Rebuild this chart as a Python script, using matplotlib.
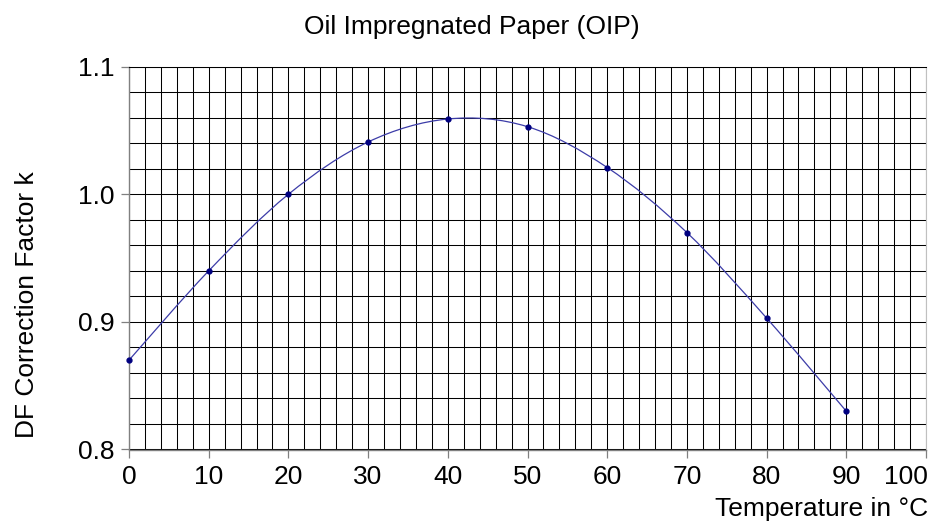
import matplotlib
matplotlib.use("Agg")
import matplotlib.pyplot as plt
import numpy as np
from matplotlib.path import Path
from matplotlib.patches import PathPatch
from matplotlib.ticker import MultipleLocator, FixedLocator
from matplotlib.transforms import ScaledTranslation

plt.rcParams['font.family'] = ['Liberation Sans', 'DejaVu Sans']

temperature = [0, 10, 20, 30, 40, 50, 60, 70, 80, 90]
k_factor = [0.870, 0.940, 1.000, 1.041, 1.059, 1.053, 1.021, 0.970, 0.903, 0.830]
x_ticks = [0, 10, 20, 30, 40, 50, 60, 70, 80, 90, 100]
y_ticks = [0.8, 0.9, 1.0, 1.1]
y_tick_labels = ['0.8', '0.9', '1.0', '1.1']

FS = 19
W, H = 935, 530
fig = plt.figure(figsize=(W / 100, H / 100), dpi=100)
ax = fig.add_axes([129 / W, (H - 449.5) / H, (926 - 129) / W, (449.5 - 66.7) / H])
ax.set_xlim(0, 100)
ax.set_ylim(0.8, 1.1)

ax.xaxis.set_major_locator(FixedLocator(x_ticks))
ax.yaxis.set_major_locator(FixedLocator(y_ticks))
ax.set_yticklabels(y_tick_labels)
ax.xaxis.set_minor_locator(MultipleLocator(2))
ax.yaxis.set_minor_locator(MultipleLocator(0.02))
ax.grid(which='both', color='black', linewidth=0.75)
ax.set_axisbelow(True)
ax.tick_params(which='minor', length=0)
ax.tick_params(which='major', length=5.8, width=0.9, color='#808080',
               labelsize=FS)
ax.tick_params(axis='x', pad=5)
ax.tick_params(axis='y', pad=4.3)
for s in ['left', 'bottom']:
    ax.spines[s].set_color('#808080')
    ax.spines[s].set_linewidth(1.0)
ax.spines['right'].set_color('#c0c0c0')
ax.spines['top'].set_color('black')
ax.spines['top'].set_linewidth(0.75)

# keep the last x tick label inside the figure, as in the reference
fig.canvas.draw()
last = ax.get_xticklabels()[-1]
last.set_horizontalalignment('right')
last.set_transform(last.get_transform() + ScaledTranslation(2 / 100, 0, fig.dpi_scale_trans))

# smooth curve through points (Catmull-Rom via Bezier path)
P = np.column_stack([temperature, k_factor]).astype(float)
ext = np.vstack([P[0], P, P[-1]])
verts = [tuple(P[0])]
codes = [Path.MOVETO]
for i in range(1, len(ext) - 2):
    p0, p1, p2, p3 = ext[i - 1], ext[i], ext[i + 1], ext[i + 2]
    c1 = p1 + (p2 - p0) / 6
    c2 = p2 - (p3 - p1) / 6
    verts += [tuple(c1), tuple(c2), tuple(p2)]
    codes += [Path.CURVE4] * 3
ax.add_patch(PathPatch(Path(verts, codes), fill=False, edgecolor='#3c3ca8',
                       linewidth=0.9, zorder=3))
ax.plot(temperature, k_factor, linestyle='none', marker='o', markersize=3.5,
        color='#000080', zorder=4, clip_on=False)

fig.text(472 / W, 1 - 27 / H, 'Oil Impregnated Paper (OIP)', ha='center',
         va='center', fontsize=FS)
fig.text(27 / W, 1 - 305 / H, 'DF Correction Factor k', rotation=90,
         ha='center', va='center', fontsize=FS)
fig.text(928 / W, 1 - 509 / H, 'Temperature in °C', ha='right', va='center',
         fontsize=FS)

fig.savefig('out.png', dpi=100)
